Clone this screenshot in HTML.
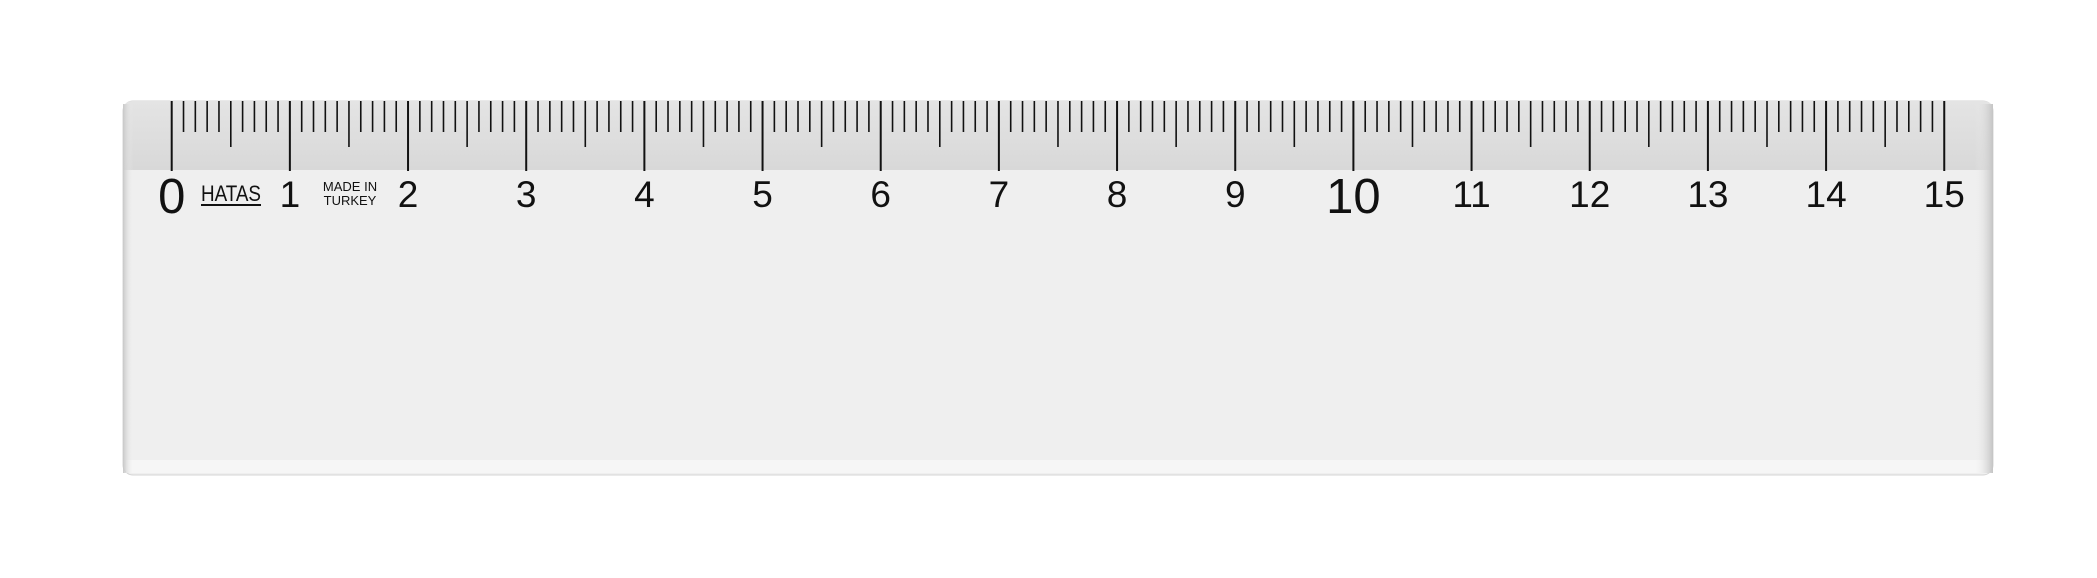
<!DOCTYPE html>
<html><head><meta charset="utf-8"><style>
html,body{margin:0;padding:0;background:#fff;width:2097px;height:578px;overflow:hidden}
svg{display:block}
text{font-family:"Liberation Sans",sans-serif;fill:#111}
</style></head><body>
<svg id="ruler" width="2097" height="578" viewBox="0 0 2097 578">
<defs>
<linearGradient id="band" x1="0" y1="0" x2="0" y2="1"><stop offset="0" stop-color="#e4e4e4"/><stop offset="1" stop-color="#d8d8d8"/></linearGradient>
<linearGradient id="edgeR" x1="0" y1="0" x2="1" y2="0"><stop offset="0" stop-color="#efefef" stop-opacity="0"/><stop offset="1" stop-color="#c4c4c4"/></linearGradient>
<linearGradient id="edgeL" x1="0" y1="0" x2="1" y2="0"><stop offset="0" stop-color="#c8c8c8"/><stop offset="1" stop-color="#efefef" stop-opacity="0"/></linearGradient>
</defs>
<rect x="123" y="101" width="1870" height="374" rx="10" fill="#efefef" stroke="#d4d4d4" stroke-width="1"/>
<path d="M133 101 H1983 Q1993 101 1993 111 V170 H123 V111 Q123 101 133 101Z" fill="url(#band)"/>
<rect x="126" y="460" width="1864" height="13" fill="#f6f6f6"/>
<rect x="1975" y="104" width="18" height="369" fill="url(#edgeR)"/>
<rect x="123" y="104" width="10" height="369" fill="url(#edgeL)"/>
<g id="ticks"></g>
<g id="labels"></g>
<text x="231" y="201" font-size="22" text-anchor="middle" textLength="60" lengthAdjust="spacingAndGlyphs">HATAS</text>
<line x1="201" y1="205" x2="261" y2="205" stroke="#111" stroke-width="2"/>
<text x="350" y="191" font-size="13" text-anchor="middle">MADE IN</text>
<text x="350" y="205" font-size="13" text-anchor="middle">TURKEY</text>
</svg>
<script>
const cmLabels=["0","1","2","3","4","5","6","7","8","9","10","11","12","13","14","15"];
const mmCount=[150];
const x0=171.7, cm=118.17;
const xs=mm=>x0+mm*cm/10;
const NS="http://www.w3.org/2000/svg";
const tg=document.getElementById('ticks');
for(let i=0;i<=mmCount[0];i++){
  const l=document.createElementNS(NS,'line');
  const len=i%10===0?70:(i%5===0?46:31);
  l.setAttribute('x1',xs(i));l.setAttribute('x2',xs(i));
  l.setAttribute('y1',101);l.setAttribute('y2',101+len);
  l.setAttribute('stroke','#111');l.setAttribute('stroke-width',i%10===0?2:1.6);
  
  
  tg.appendChild(l);
}
const lg=document.getElementById('labels');
cmLabels.forEach((t,i)=>{
  const e=document.createElementNS(NS,'text');
  const big=(t==="0"||t==="10");
  e.setAttribute('x',xs(i*10));
  e.setAttribute('y',big?213:207);
  e.setAttribute('font-size',big?49:37);
  e.setAttribute('text-anchor','middle');
  e.textContent=t;
  
  
  lg.appendChild(e);
});
</script>
</body></html>
